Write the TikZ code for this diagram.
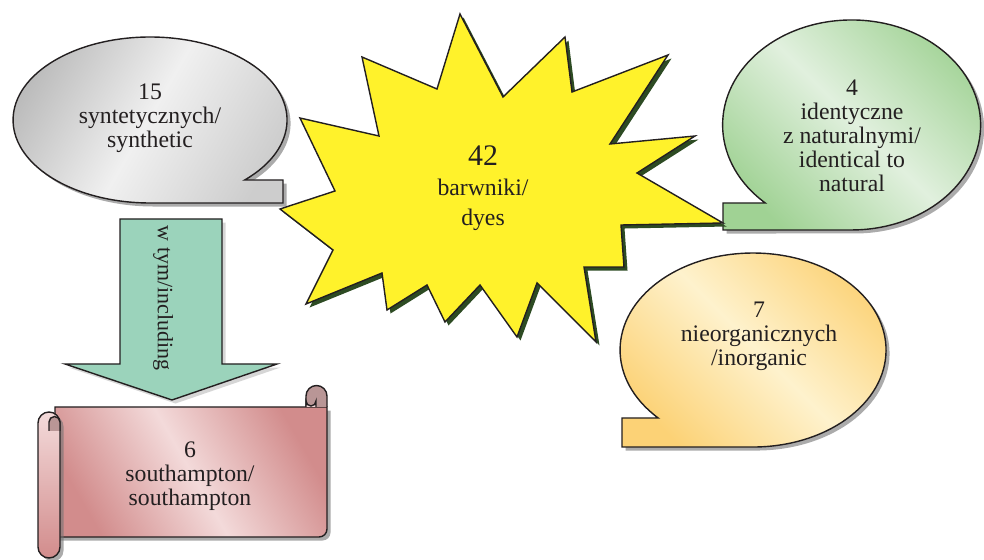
\documentclass[tikz,border=0pt]{standalone}
\usepackage{fontspec}
\setmainfont{Liberation Serif}
\usetikzlibrary{shadows}

\definecolor{txt}{RGB}{35,31,32}
\definecolor{grayD}{RGB}{185,185,185}
\definecolor{grayL}{RGB}{240,240,240}
\definecolor{grayM}{RGB}{205,205,205}
\definecolor{starY}{RGB}{255,242,43}
\definecolor{starD}{RGB}{45,75,35}
\definecolor{greenD}{RGB}{160,210,148}
\definecolor{greenL}{RGB}{225,240,222}
\definecolor{orangeD}{RGB}{252,210,118}
\definecolor{orangeL}{RGB}{254,242,205}
\definecolor{arrowG}{RGB}{155,211,187}
\definecolor{pinkD}{RGB}{210,140,140}
\definecolor{pinkL}{RGB}{243,218,218}
\definecolor{pinkR}{RGB}{185,150,150}

\begin{document}
\begin{tikzpicture}[x=0.02cm, y=0.02cm,
  every node/.style={align=center, text=txt, font=\rmfamily\fontsize{13.5}{13.7}\selectfont},
  outline/.style={draw=txt, line width=0.8pt},
  bubshadow/.style={drop shadow={shadow xshift=2pt, shadow yshift=-2pt, opacity=0.6, fill=black!55}},
  starshadow/.style={drop shadow={shadow xshift=2pt, shadow yshift=-2pt, opacity=1, fill=starD}}]

\useasboundingbox (0,0) rectangle (984,-560);

% speech bubbles
\draw[outline, bubshadow, left color=grayD, right color=grayM, middle color=grayL, shading angle=60]
  (244.7,-180) arc[start angle=-46.3, end angle=270, x radius=137, y radius=83] -- (283,-203) -- (283,-180) -- cycle;
\draw[outline, bubshadow, left color=greenD, right color=greenD, middle color=greenL, shading angle=135]
  (723,-203) -- (765.3,-203) arc[start angle=228, end angle=-90, x radius=129, y radius=105] -- (723,-230) -- cycle;
\draw[outline, bubshadow, left color=orangeD, right color=orangeD, middle color=orangeL, shading angle=135]
  (622,-418) -- (658.2,-418) arc[start angle=224.5, end angle=-90, x radius=133, y radius=97] -- (622,-447) -- cycle;

% star
\draw[outline, starshadow, fill=starY] (460,-14) -- (503,-97) -- (565,-37) -- (572,-92) -- (668,-55)
  -- (610,-144) -- (695,-136) -- (637,-173) -- (723,-223) -- (621,-225) -- (624,-267) -- (584,-267)
  -- (596,-342) -- (537,-283) -- (517,-337) -- (480,-285) -- (445,-322) -- (427,-285) -- (387,-310)
  -- (382,-273) -- (306,-304) -- (333,-250) -- (280,-209) -- (335,-191) -- (300,-118) -- (379,-136)
  -- (362,-57) -- (437,-89) -- cycle;

% arrow
\draw[outline, drop shadow={shadow xshift=2pt, shadow yshift=-2pt, opacity=0.4, fill=black!40}, fill=arrowG]
  (120,-219) -- (222,-219) -- (222,-364) -- (277,-364) -- (172,-400) -- (65,-364) -- (120,-364) -- cycle;

% scroll
\draw[outline, bubshadow, left color=pinkD, right color=pinkD, middle color=pinkL, shading angle=120]
  (55,-407) -- (327,-407) -- (327,-529) arc[start angle=0, end angle=-90, radius=8] -- (55,-537) -- cycle;
\draw[outline, fill=pinkR] (306,-407) -- (306,-396) arc[start angle=180, end angle=0, radius=10.5] -- (327,-407);
\draw[outline, fill=pinkL] (306,-407) -- (306,-401) arc[start angle=180, end angle=360, radius=5] -- (316,-407);
\draw[outline, bubshadow, top color=pinkL, bottom color=pinkD]
  (38,-423) arc[start angle=180, end angle=0, radius=11] -- (60,-547) arc[start angle=0, end angle=-180, radius=11] -- cycle;
\draw[outline, fill=pinkR] (49,-431) -- (49,-422) arc[start angle=180, end angle=0, radius=5.5] -- (60,-431);

\node at (150,-118) (synth) {15\\syntetycznych/\\synthetic};
\node[font=\rmfamily\fontsize{13.5}{17}\selectfont] at (483,-188) (dyes) {{\fontsize{17}{17}\selectfont 42}\\barwniki/\\dyes};
\node at (852,-136) (ident) {4\\identyczne\\z naturalnymi/\\identical to\\natural};
\node at (759,-336) (inorg) {7\\nieorganicznych\\/inorganic};
\node at (190,-476) (south) {6\\southampton/\\southampton};
\node[rotate=-90, font=\rmfamily\fontsize{12.5}{13}\selectfont] at (163,-298) (incl) {w tym/including};

\end{tikzpicture}
\end{document}
